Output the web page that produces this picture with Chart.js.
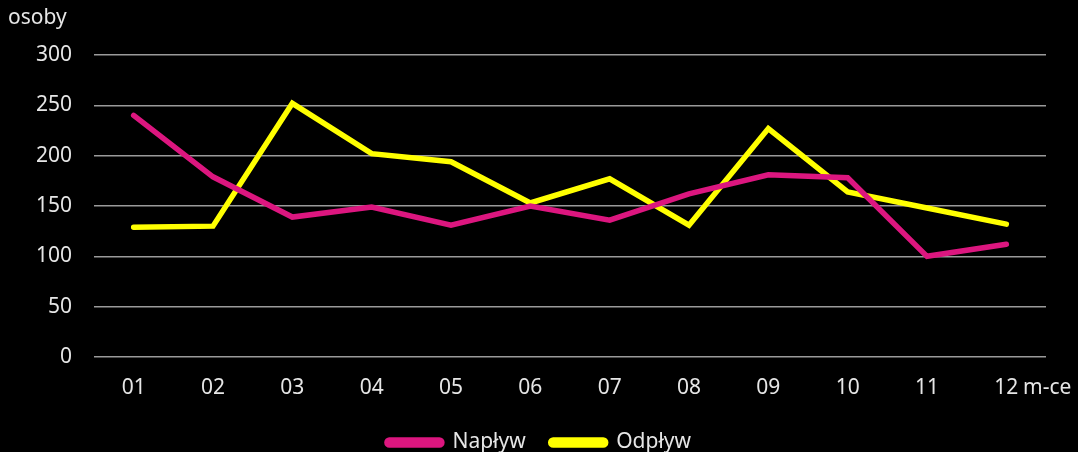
<!DOCTYPE html>
<html>
<head>
<meta charset="utf-8">
<script src="https://cdn.jsdelivr.net/npm/chart.js@4"></script>
<style>
  html, body { margin: 0; padding: 0; background: #000; }
  #wrap { width: 1078px; height: 452px; }
</style>
</head>
<body>
<div id="wrap"><canvas id="flowChart" width="1078" height="452"></canvas></div>
<script>
const months = ['01', '02', '03', '04', '05', '06', '07', '08', '09', '10', '11', '12'];
const naplyw = [240, 179, 139, 149, 131, 150, 136, 162, 181, 178, 100, 112];
const odplyw = [129, 130, 252, 202, 194, 153, 177, 131, 227, 164, 148, 132];
const yTicks = [0, 50, 100, 150, 200, 250, 300];

const txtColor = '#e6e6e6';
const fontFamily = '"Noto Sans", "Open Sans", sans-serif';
const fontSize = 21;

// axis captions: "osoby" above the y axis, "m-ce" after the last month
const captions = {
  id: 'captions',
  afterDraw(chart) {
    const c = chart.ctx;
    const x = chart.scales.x;
    c.save();
    c.fillStyle = txtColor;
    c.font = fontSize + 'px ' + fontFamily;
    c.textBaseline = 'middle';
    c.textAlign = 'left';
    c.fillText('osoby', 8, 18);
    c.fillText('m-ce', 1023, x.top + 31);
    c.restore();
  }
};

const ctx = document.getElementById('flowChart').getContext('2d');

const flowChart = new Chart(ctx, {
  type: 'line',
  data: {
    labels: months,
    datasets: [{
      label: 'Napływ',
      data: naplyw,
      borderColor: '#dc167f',
      backgroundColor: '#dc167f',
      borderWidth: 5.5,
      borderCapStyle: 'round',
      pointRadius: 0,
      tension: 0
    }, {
      label: 'Odpływ',
      data: odplyw,
      borderColor: '#ffff00',
      backgroundColor: '#ffff00',
      borderWidth: 5.5,
      borderCapStyle: 'round',
      pointRadius: 0,
      tension: 0
    }]
  },
  options: {
    responsive: false,
    animation: false,
    layout: { padding: { left: 0, right: 0, top: 55, bottom: -11 } },
    scales: {
      x: {
        offset: true,
        grid: { display: false, drawTicks: false },
        border: { display: false },
        ticks: { color: txtColor, font: { size: fontSize, family: fontFamily }, padding: 18 },
        afterFit: s => { s.height = 50; }
      },
      y: {
        min: 0,
        max: 300,
        afterBuildTicks: s => { s.ticks = yTicks.map(v => ({ value: v })); },
        grid: { color: '#9a9a9a', lineWidth: 1.5, drawTicks: false },
        border: { display: false },
        ticks: { color: txtColor, font: { size: fontSize, family: fontFamily }, padding: 22 },
        afterFit: s => { s.width = 94; }
      },
      // empty right-hand axis, only keeps the right margin so the legend stays centred on the page
      yRight: {
        position: 'right',
        grid: { display: false, drawTicks: false },
        border: { display: false },
        ticks: { display: false },
        afterFit: s => { s.width = 32; }
      }
    },
    plugins: {
      legend: {
        position: 'bottom',
        labels: {
          color: txtColor,
          font: { size: fontSize, family: fontFamily },
          boxWidth: 55,
          boxHeight: 5,
          useBorderRadius: true,
          borderRadius: 2.5,
          padding: 25
        }
      },
      tooltip: { enabled: false }
    }
  },
  plugins: [captions]
});
</script>
</body>
</html>
